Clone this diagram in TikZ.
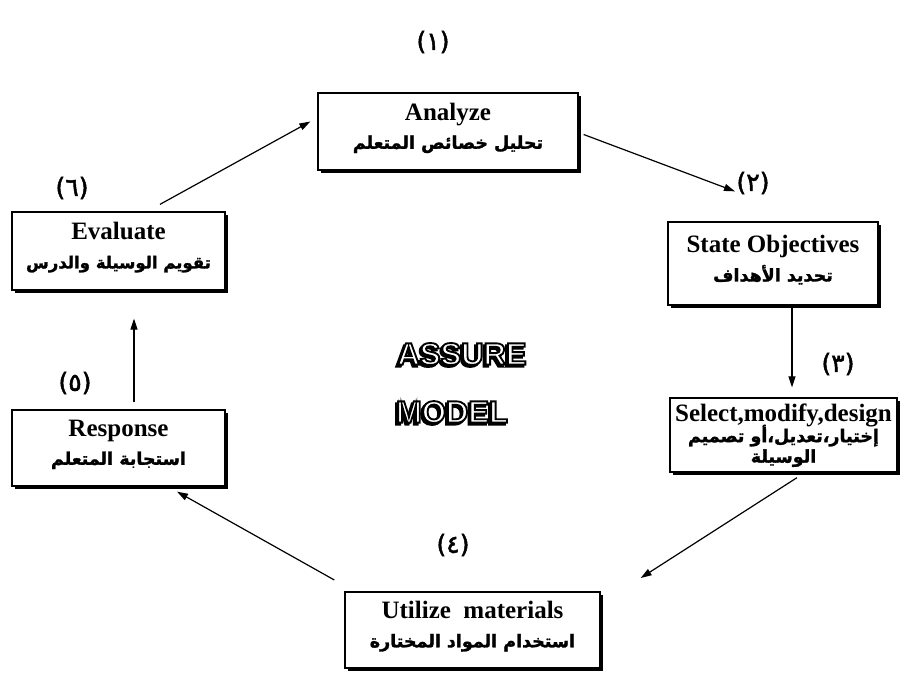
\documentclass[tikz,border=0pt]{standalone}
\usepackage{fontspec}
\setmainfont{Liberation Serif}
\TeXXeTstate=1
\newfontfamily\arabicfont[Script=Arabic,FakeBold=1.6]{DejaVu Sans}
\newfontfamily\numfont[FakeBold=1.8]{DejaVu Sans}
\newfontfamily\logofont[FakeBold=6]{Liberation Sans Bold}
\usetikzlibrary{arrows.meta,shadows,calc}
\newcommand{\tightlines}{\lineskiplimit=-30pt\lineskip=0pt\relax}
\newcommand{\artxt}[1]{{\arabicfont\fontsize{17.5}{20}\selectfont\beginR #1\endR}}
\newcommand{\entxt}[1]{{\bfseries\fontsize{25}{28}\selectfont #1}}
\newcommand{\logotxt}[1]{\makebox[0pt][l]{\hspace{-2pt}\raisebox{-2pt}{\textcolor{black}{#1}}}{\color{white}\special{pdf:literal direct 0 G}#1}}
\begin{document}
\begin{tikzpicture}[x=1pt,y=-1pt,
  box/.style={draw, line width=1.3pt, fill=white,
    drop shadow={shadow xshift=2.5pt,shadow yshift=-2.5pt,fill=black,opacity=1},
    inner sep=0pt},
  lbl/.style={align=center, inner sep=0pt, yshift=3.5pt,
    font={\bfseries\fontsize{25}{28.5}\selectfont\tightlines}},
  arr/.style={line width=1.2pt, -{Triangle[length=11pt,width=7pt]}},
  num/.style={font=\numfont\fontsize{25}{26}\selectfont, inner sep=0pt},
  logo/.style={font=\logofont\fontsize{31}{34}\selectfont, inner sep=0pt}]
\useasboundingbox (0,0) rectangle (905,680);

\node[box, minimum width=260pt, minimum height=77pt] (an) at (448,131.5) {};
\node[lbl] (antxt) at (an.center) {\entxt{Analyze}\\\artxt{تحليل خصائص المتعلم}};
\node[box, minimum width=210pt, minimum height=83pt] (so) at (773,263.5) {};
\node[lbl] (sotxt) at (so.center) {\entxt{State Objectives}\\\artxt{تحديد الأهداف}};
\node[box, minimum width=227pt, minimum height=74pt] (se) at (783.5,435) {};
\node[lbl, yshift=-4pt, font={\bfseries\fontsize{25}{20.5}\selectfont\tightlines}] (setxt) at (se.center)
  {\entxt{Select,modify,design}\\\artxt{إختيار،تعديل،أو تصميم}\\\artxt{الوسيلة}};
\node[box, minimum width=255pt, minimum height=76pt] (ut) at (472.5,630) {};
\node[lbl] (uttxt) at (ut.center) {\entxt{Utilize\ \ materials}\\\artxt{استخدام المواد المختارة}};
\node[box, minimum width=213pt, minimum height=76pt] (re) at (118.5,448) {};
\node[lbl] (retxt) at (re.center) {\entxt{Response}\\\artxt{استجابة المتعلم}};
\node[box, minimum width=213pt, minimum height=78pt] (ev) at (118.5,251) {};
\node[lbl] (evtxt) at (ev.center) {\entxt{Evaluate}\\{\arabicfont\fontsize{16.5}{20}\selectfont\beginR تقويم الوسيلة والدرس\endR}};

\node[num] (n1) at (433,42) {(١)};
\node[num] (n2) at (753,183) {(٢)};
\node[num] (n3) at (838,364) {(٣)};
\node[num] (n4) at (453,545) {(٤)};
\node[num] (n5) at (75,383) {(٥)};
\node[num] (n6) at (72,188) {(٦)};

\node[logo] (l1) at (462,355) {\logotxt{ASSURE}};
\node[logo] (l2) at (452,413) {\logotxt{MODEL}};

\draw[arr] ($(ev.north)+(41.5,-7)$) -- ($(an.west)+(-7,-10)$);
\draw[arr] ($(an.east)+(5,3)$) -- ($(so.north)+(-38,-30)$);
\draw[arr] ($(so.south)+(19,2)$) -- ($(se.north)+(8.5,-10)$);
\draw[arr] ($(se.south)+(13.5,5)$) -- ($(ut.east)+(40,-52)$);
\draw[arr] ($(ut.west)+(-10,-50)$) -- ($(re.south)+(58.5,5)$);
\draw[arr] ($(re.north)+(15.5,-7)$) -- ($(ev.south)+(15.5,28)$);
\end{tikzpicture}
\end{document}
